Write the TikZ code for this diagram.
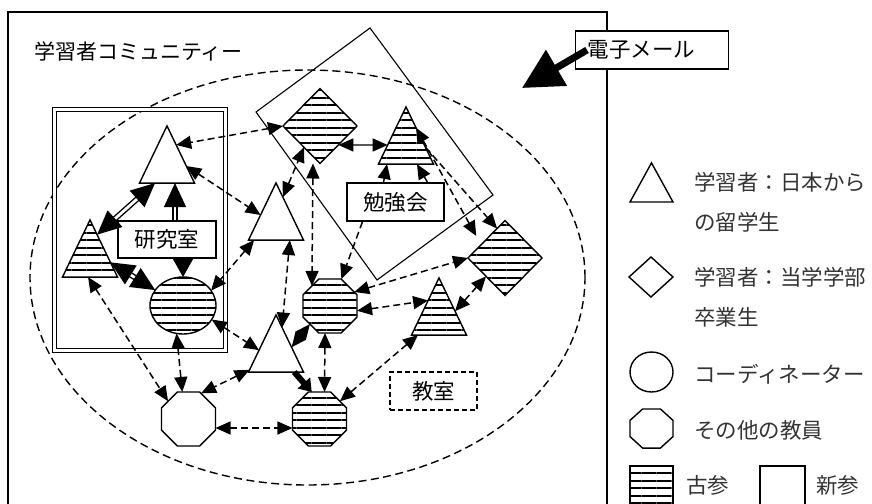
\documentclass[tikz,border=0pt]{standalone}
\usepackage{fontspec}
\newfontfamily\jpfont{Noto Sans CJK JP}
\usepackage{tikz}
\usetikzlibrary{shapes.geometric, arrows.meta, patterns.meta}

\begin{document}
\begin{tikzpicture}[x=1pt, y=-1pt,
    Head/.tip={Triangle[length=15pt,width=13pt]},
    Big/.tip={Triangle[length=24pt,width=22pt]},
    jp/.style={font=\jpfont\fontsize{21.5pt}{26pt}\selectfont},
    key/.style={font=\jpfont\fontsize{21.5pt}{40pt}\selectfont, text=black!80, anchor=west, align=left, inner sep=0pt},
    member/.style={draw, line width=1.4pt, inner sep=0pt, outer sep=0pt},
    new/.style={member, fill=white},
    old/.style={member, preaction={fill=white}, pattern={Lines[distance=7.5pt,line width=2pt]}},
    tri/.style={regular polygon, regular polygon sides=3, minimum size=63.5pt, yscale=1.2},
    dia/.style={diamond, minimum width=74pt, minimum height=75pt},
    oval/.style={ellipse, minimum width=66pt, minimum height=57pt},
    oct/.style={regular polygon, regular polygon sides=8, minimum size=58.5pt},
    tag/.style={draw, fill=white, line width=1.3pt, jp, inner sep=0pt},
    link/.style={line width=1.5pt, dash pattern=on 7pt off 4pt, Head-Head},
    oneway/.style={line width=1.5pt, dash pattern=on 7pt off 4pt, -Head},
    tie/.style={double, double distance=2.8pt, line width=1.4pt}]

    \useasboundingbox (0,0) rectangle (872,503);
    \clip (0,0) rectangle (872,503);

    % --- Frames ---
    \draw[line width=1.5pt] (8,520) -- (8,12) -- (607,12) -- (607,520);
    \node[jp, anchor=west, inner sep=0pt, font=\jpfont\fontsize{21pt}{26pt}\selectfont] (title) at (34,51) {学習者コミュニティー};
    \draw[line width=1.4pt, dash pattern=on 8pt off 4.5pt] (307.5,277.5) ellipse [x radius=277.5pt, y radius=207.5pt];
    \draw[double, double distance=2.6pt, line width=1.6pt] (54.5,109.5) rectangle (225.5,350.5);
    \draw[line width=1.1pt] (370,28) -- (493,195) -- (377,280) -- (256,112) -- cycle;

    % --- Members ---
    \node[new, tri] (t1) at (167,164) {};
    \node[old, tri] (t2) at (90,258) {};
    \node[old, oval] (e3) at (183,305.5) {};
    \node[new, tri] (t4) at (276,221) {};
    \node[old, dia] (d5) at (320,126) {};
    \node[old, tri] (t6) at (406,145) {};
    \node[old, oct] (o7) at (330,306) {};
    \node[old, dia] (d8) at (505,258) {};
    \node[old, tri] (t9) at (439,316) {};
    \node[new, tri] (t10) at (276,353) {};
    \node[new, oct] (o11) at (188.5,419) {};
    \node[old, oct] (o12) at (319.5,419) {};

    % --- Places ---
    \node[tag, minimum width=98pt, minimum height=37pt] (lab) at (167,239.5) {研究室};
    \node[tag, minimum width=97pt, minimum height=38pt] (study) at (395.5,202) {勉強会};
    \node[tag, fill=none, dash pattern=on 5pt off 3pt, minimum width=87pt, minimum height=38pt] (room) at (433.5,391) {教室};

    % Lab ties
    \draw[tie, Big-Big] (t2.70) -- (t1.233);
    \draw[tie, -Big] ([xshift=8pt]lab.north) -- ([xshift=8pt]t1.-90);
    \draw[line width=1.4pt, -{Triangle[length=19pt,width=21pt]}] ([xshift=16pt]lab.south) -- (e3.90);
    \draw[tie, Big-Big] (t2.-10) -- (e3.151);

    % Study group
    \draw[link] (d5.180) -- (t1.60);
    \draw[link] (t1.-5) -- (t4.162);
    \draw[link] (t4.71) -- (d5.233);
    \draw[line width=1.4pt, Head-Head] (d5.-46) -- (t6.180);
    \draw[link] ([xshift=-7pt]d5.-90) -- (o7.132);
    \draw[line width=1.4pt, -Head] ([xshift=-12pt]study.north) -- ([xshift=-19pt]t6.-90);
    \draw[line width=1.4pt, -Head] ([xshift=32pt]study.north) -- ([xshift=11pt]t6.-90);
    \draw[link, shorten >=10pt] (t6.55) -- (d8.151);
    \draw[oneway] (t6.-5) -- (d8.105);
    \draw[oneway] ([xshift=-33pt]study.south) -- (o7.67);

    % Classroom
    \draw[link] (o7.30) -- (d8.180);
    \draw[link] (o7.-10) -- (t9.130);
    \draw[link] (t9.14) -- (d8.224);
    \draw[link] (t9.217) -- (o12.41);
    \draw[link] (t4.-49) -- (t10.74);
    \draw[link] (t4.216) -- (e3.28);
    \draw[link] (o7.222) -- (t10.17);
    \draw[link] ([xshift=-5pt]o7.-90) -- ([xshift=5pt]o12.90);
    \draw[line width=6pt, -{Triangle[length=12pt,width=16pt]}] (t10.-41) -- (o12.106);
    \draw[link] (e3.-26) -- (t10.172);
    \draw[link] (e3.257) -- (o11.103);
    \draw[link] (t2.263) -- (o11.139);
    \draw[link] (t10.208) -- (o11.64);
    \draw[link] ([yshift=-9pt]o11.0) -- ([yshift=-9pt]o12.180);

    % E-mail
    \node[tag, anchor=west, minimum height=38pt, text width=129pt, inner xsep=12pt, align=left] (mail) at (575,50) {電子メール};
    \coordinate (mailtip) at (522,88);
    \draw[line width=7pt, -{Triangle[length=40pt,width=40pt]}] ([xshift=12pt]mail.west) -- (mailtip);

    % --- Legend ---
    \node[new, regular polygon, regular polygon sides=3, minimum size=49.7pt, yscale=1.05] (ktri) at (651.5,189) {};
    \node[key] (ktritxt) at (694,202) {学習者：日本から\\の留学生};
    \node[new, diamond, minimum width=44pt, minimum height=40pt] (kdia) at (651,277) {};
    \node[key] (kdiatxt) at (694,297.5) {学習者：当学学部\\卒業生};
    \node[new, ellipse, minimum width=43pt, minimum height=40pt] (koval) at (651.5,372) {};
    \node[key] (kovaltxt) at (694,374) {コーディネーター};
    \node[new, regular polygon, regular polygon sides=8, minimum size=46.5pt, yscale=0.91] (koct) at (651.5,428.5) {};
    \node[key] (kocttxt) at (694,430) {その他の教員};
    \node[old, minimum width=43pt, minimum height=60pt, anchor=north west] (kold) at (630,466) {};
    \node[key] (koldtxt) at (686,485) {古参};
    \node[new, minimum width=45pt, minimum height=60pt, anchor=north west] (knew) at (760,466) {};
    \node[key] (knewtxt) at (816,485) {新参};
\end{tikzpicture}
\end{document}
